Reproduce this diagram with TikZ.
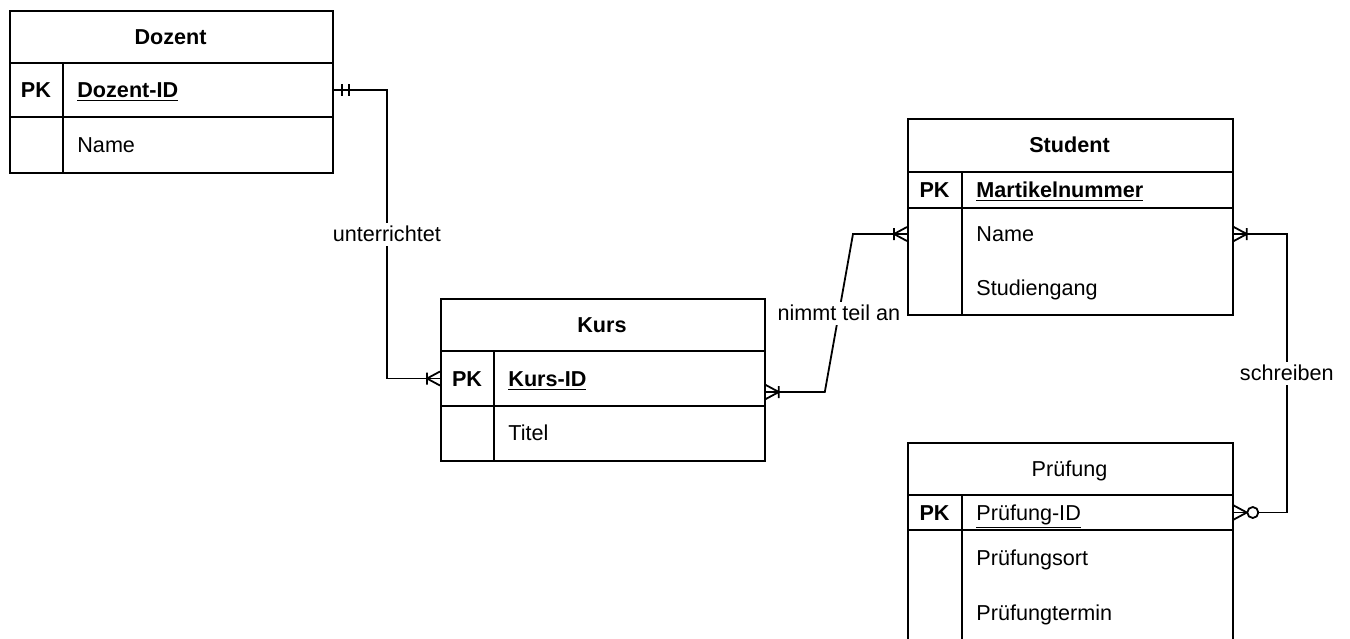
\documentclass[tikz,border=0pt]{standalone}
\usepackage{fontspec}
\setmainfont{Liberation Sans}
\usetikzlibrary{calc}

\tikzset{
  erline/.style={line width=0.9pt},
  tblbox/.style={draw, erline, anchor=north west, inner sep=0pt},
  cell/.style={inner sep=0pt, text height=8pt, text depth=0.5pt, font=\fontsize{10.8}{13}\selectfont},
  boldcell/.style={cell, font=\fontsize{10.8}{13}\selectfont\bfseries},
  fieldtext/.style={cell, anchor=west},
  relname/.style={cell, fill=white, inner sep=1.5pt},
}

\begin{document}
\begin{tikzpicture}[x=0.5pt, y=-0.5pt]
  \useasboundingbox (0,0) rectangle (1350,638);
  \clip (0,0) rectangle (1350,638);
  \fill[white] (0,0) rectangle (1350,638);

  \node[tblbox, minimum width=161.5pt, minimum height=81pt] (dozent) at (9,10) {};
  \draw[erline] (9,63) -- (332,63);
  \draw[erline] (9,117) -- (332,117);
  \draw[erline] (63,63) -- (63,172);
  \node[boldcell] (dozenttitle) at (170.5,36.5) {Dozent};
  \node[boldcell] (dozentpk) at (36,90) {PK};
  \node[boldcell, anchor=west] (dozentid) at (77,90) {\underline{Dozent-ID}};
  \node[fieldtext] (dozentname) at (77,144.5) {Name};

  \node[tblbox, minimum width=162pt, minimum height=81pt] (kurs) at (440,298) {};
  \draw[erline] (440,351) -- (764,351);
  \draw[erline] (440,406) -- (764,406);
  \draw[erline] (494,351) -- (494,460);
  \node[boldcell] (kurstitle) at (602,324.5) {Kurs};
  \node[boldcell] (kurspk) at (467,378.5) {PK};
  \node[boldcell, anchor=west] (kursid) at (508,378.5) {\underline{Kurs-ID}};
  \node[fieldtext] (kurstitel) at (508,433) {Titel};

  \node[tblbox, minimum width=162.5pt, minimum height=98pt] (student) at (907,118) {};
  \draw[erline] (907,172) -- (1232,172);
  \draw[erline] (907,208) -- (1232,208);
  \draw[erline] (962,172) -- (962,314);
  \node[boldcell] (studenttitle) at (1069.5,145) {Student};
  \node[boldcell] (studentpk) at (934.5,190) {PK};
  \node[boldcell, anchor=west] (matrnr) at (976,190) {\underline{Martikelnummer}};
  \node[fieldtext] (stuname) at (976,234) {Name};
  \node[fieldtext] (stugang) at (976,288) {Studiengang};

  \node[tblbox, minimum width=162.5pt, minimum height=105pt] (pruefung) at (907,442) {};
  \draw[erline] (907,495) -- (1232,495);
  \draw[erline] (907,530) -- (1232,530);
  \draw[erline] (962,495) -- (962,660);
  \node[cell] (pruefungtitle) at (1069.5,468.5) {Prüfung};
  \node[boldcell] (pruefungpk) at (934.5,512.5) {PK};
  \node[fieldtext] (pruefid) at (976,512.5) {\underline{Prüfung-ID}};
  \node[fieldtext] (pruefort) at (976,558) {Prüfungsort};
  \node[fieldtext] (prueftermin) at (976,613) {Prüfungtermin};

  \draw[erline] (dozentid -| dozent.east) -- ++(53,0) |- node[relname, pos=0.25] {unterrichtet} (kursid -| kurs.west);
  \draw[erline] (dozentid -| dozent.east) ++(8,-6) -- ++(0,12) ++(7,-12) -- ++(0,12);
  \draw[erline] (kursid -| kurs.west) ++(0,-7) -- ++(-13,7) -- ++(13,7) ++(-13,-13) -- ++(0,12);

  \coordinate (kursout) at ($(kursid -| kurs.east)+(0,13.5)$);
  \draw[erline] (kursout) -- ++(59,0) -- node[relname] {nimmt teil an} (853,234) -- (stuname -| student.west);
  \draw[erline] (kursout) ++(0,-7) -- ++(13,7) -- ++(-13,7) ++(13,-13) -- ++(0,12);
  \draw[erline] (stuname -| student.west) ++(0,-7) -- ++(-13,7) -- ++(13,7) ++(-13,-13) -- ++(0,12);

  \draw[erline] (stuname -| student.east) -- ++(53,0) |- node[relname, pos=0.25] {schreiben} (pruefid -| pruefung.east);
  \draw[erline] (stuname -| student.east) ++(0,-7) -- ++(13,7) -- ++(-13,7) ++(13,-13) -- ++(0,12);
  \draw[erline] (pruefid -| pruefung.east) ++(0,-7) -- ++(13,7) -- ++(-13,7);
  \draw[erline, fill=white] (pruefid -| pruefung.east) ++(19,0) circle[radius=5.5];
\end{tikzpicture}
\end{document}
